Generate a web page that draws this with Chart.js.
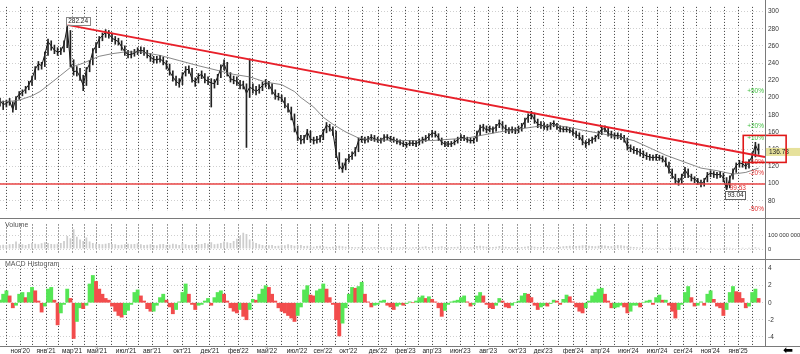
<!DOCTYPE html>
<html>
<head>
<meta charset="utf-8">
<script src="https://cdn.jsdelivr.net/npm/chart.js@4.4.1/dist/chart.umd.min.js"></script>
<style>
  body { margin: 0; background: #fff; }
  #wrap { position: relative; width: 800px; height: 354px; overflow: hidden; font-family: 'Liberation Sans', Arial, sans-serif; }
  canvas { position: absolute; left: 0; }
  .sep { position: absolute; left: 0; width: 800px; height: 1px; background: #7a7a7a; }
  .vsep { position: absolute; left: 765px; top: 0; width: 1px; height: 347px; background: #7a7a7a; }
  .pane-title { position: absolute; left: 5px; font-size: 7px; color: #555; }
  .arrow { position: absolute; left: 783px; top: 343px; font-size: 12px; color: #000; font-family: 'DejaVu Sans'; }
</style>
</head>
<body>
<div id="wrap">
  <canvas id="priceChart" width="800" height="218" style="top:0"></canvas>
  <canvas id="volChart" width="800" height="41" style="top:218px"></canvas>
  <canvas id="macdChart" width="800" height="95" style="top:259px"></canvas>
  <div class="sep" style="top:218px"></div>
  <div class="sep" style="top:259px"></div>
  <div class="sep" style="top:346px"></div>
  <div class="vsep"></div>
  <div class="pane-title" style="top:221px">Volume</div>
  <div class="pane-title" style="top:260px">MACD Histogram</div>
  <div class="arrow">&#x2B05;</div>
</div>
<script>
// weekly closes, week 0 = left edge of the chart
const price = [196,192,193,196,186,199,204,206,210,215,
  222,233,239,237,250,265,260,255,253,254,
  262,282,240,230,231,224,214,232,239,254,
  260,268,272,276,274,269,267,265,259,253,
  250,250,252,254,255,254,250,247,244,244,
  245,242,238,230,224,219,216,226,232,233,
  221,218,225,227,221,219,217,216,224,234,
  240,228,222,220,219,214,215,205,212,210,
  207,210,214,217,215,208,202,201,199,192,
  188,180,166,155,150,152,160,152,150,151,
  152,160,168,165,160,135,121,116,126,130,
  133,138,150,152,150,152,154,152,151,150,
  154,154,152,151,149,148,146,145,147,147,
  146,149,151,152,155,159,158,153,148,146,
  146,146,148,151,154,153,151,150,150,157,
  165,166,162,164,163,166,171,167,163,162,
  163,162,163,166,173,178,181,174,169,168,
  167,165,168,171,166,164,163,163,162,160,
  157,155,149,146,149,151,153,158,163,164,
  158,157,156,156,155,152,143,141,139,138,
  136,134,132,131,130,131,130,129,124,116,
  110,104,101,108,116,110,107,105,103,99,
  103,110,112,111,110,111,106,93,106,114,
  121,124,123,120,125,132,145,137];
// weekly lows and highs
const priceLow = [190,186,189,191,183,186,198,202,205,209,
  214,221,232,233,236,249,255,251,249,250,
  253,258,236,226,225,220,208,214,230,238,
  252,258,266,270,269,265,262,261,255,249,
  246,246,248,250,251,249,246,242,240,240,
  241,238,233,226,219,214,212,215,225,228,
  218,213,217,222,217,215,189,211,215,223,
  232,225,218,216,214,210,210,142,200,205,
  203,205,208,212,210,204,198,197,195,188,
  183,174,160,150,146,147,151,148,146,147,
  148,151,159,161,156,130,117,113,116,125,
  128,132,137,148,147,148,150,149,148,147,
  149,151,149,148,146,145,143,142,144,144,
  143,145,147,149,151,154,154,150,145,143,
  143,143,145,147,150,150,148,147,147,149,
  156,161,159,160,159,161,165,163,159,158,
  159,158,159,161,165,171,175,170,165,164,
  163,162,163,166,163,160,160,160,159,156,
  153,151,145,142,145,147,149,152,157,160,
  155,153,152,152,151,148,139,137,135,134,
  132,130,128,127,127,127,127,125,120,112,
  106,100,98,100,107,107,103,101,99,96,
  97,102,108,107,106,107,102,93,95,105,
  113,119,119,117,118,124,131,134];
const priceHigh = [199,196,197,199,195,201,207,209,213,219,
  225,236,242,241,253,268,266,261,258,258,
  266,284,278,244,236,234,226,235,243,257,
  264,271,275,279,278,275,271,269,266,260,
  255,254,256,258,259,258,255,251,248,248,
  249,247,243,239,231,225,222,229,236,237,
  234,223,228,231,228,224,222,221,227,238,
  244,241,229,225,224,220,219,216,245,216,
  213,215,218,221,219,216,209,205,203,200,
  193,189,181,167,156,156,163,161,154,155,
  156,163,171,169,166,161,136,124,129,134,
  137,142,153,155,154,155,157,156,154,153,
  157,157,155,154,152,151,149,148,150,150,
  149,152,154,156,158,162,161,158,153,149,
  149,149,151,154,157,156,154,153,153,161,
  168,169,167,167,166,169,174,172,168,165,
  166,165,167,170,176,181,184,182,175,172,
  171,169,171,173,170,167,166,166,165,164,
  161,159,156,150,152,154,156,161,166,167,
  165,161,159,159,158,156,153,145,143,141,
  140,138,136,134,133,134,133,132,130,125,
  117,111,106,111,119,117,111,108,106,104,
  106,113,115,114,113,114,112,107,109,117,
  124,127,126,125,128,136,148,146];
const lastPrice = 136.78;

// moving average
const maWeeks = [0,4,6,10,12.5,15.6,19,22,26,31,35,39,44,50,56,62,73,78,83,88,92,94,98,101,104,108,112,116,125,135,146,156,167,172,177,182,188,198,208,219,224,229,233,237];
const maValues = [195,196,197,202,207,216,226,235,240,248,251,253,253,249,243,237,227,224,218,215,207,200,189,177,169,160,153,151,150,150,153,160,166,168,166,162,158,150,133,118,115,111,113,118];

// trend lines
const trendWeeks = [21, 239];
const trendValues = [284.5, 131];
const supportLevel = 99.53;
const peakLabel = '282.24';
const lowLabel = '93.04';

// volume, millions
const volume = [28,32,30,35,38,55,40,35,30,38,
  45,40,35,42,50,45,38,35,40,45,
  60,95,80,145,90,70,60,85,55,45,
  40,38,35,40,45,38,35,30,32,35,
  40,35,38,42,35,30,32,35,30,28,
  35,38,30,32,40,35,30,42,35,30,
  32,30,35,38,45,40,50,35,40,45,
  55,50,45,60,75,95,120,110,70,55,
  45,35,30,25,28,30,22,25,30,28,
  35,30,25,28,30,22,25,20,18,22,
  25,20,18,15,18,22,25,20,18,16,
  15,14,16,18,15,12,14,16,13,15,
  14,12,15,13,12,14,16,13,12,14,
  15,16,18,20,16,14,15,18,20,16,
  14,15,16,18,20,18,15,14,16,22,
  25,20,18,16,15,18,22,20,17,15,
  16,15,14,16,18,20,22,18,16,15,
  14,16,15,14,16,18,20,22,25,20,
  22,25,28,30,25,22,20,24,28,26,
  22,20,25,30,28,24,20,18,15,14,
  12,10,9,10,8,9,10,8,7,9,
  10,12,9,8,10,9,8,7,8,9,
  8,7,9,8,7,8,9,12,10,8,
  7,8,9,8,10,12,14,10];

// MACD histogram
const macd = [0.3,1.0,1.4,0.8,-0.6,-0.3,1.0,1.2,0.6,1.2,
  1.8,1.4,0.2,-1.1,-0.4,1.6,1.8,0.3,-2.6,-1.2,
  -0.2,1.6,0.5,-4.2,-2.2,-0.6,-0.7,-0.3,2.2,3.2,
  2.5,1.6,1.0,0.5,0.3,-0.4,-1.0,-1.5,-1.7,-1.4,
  -0.9,-0.2,1.2,1.5,0.8,0.2,-0.7,-1.0,-1.0,-0.3,
  0.6,1.0,0.3,-0.5,-1.3,-0.8,0.1,1.2,2.2,1.0,
  -0.2,-0.8,-0.3,-0.2,0.2,0.5,-0.3,0.6,1.2,1.4,
  1.0,0.2,-0.6,-1.0,-1.2,-0.8,-1.6,-2.0,-0.8,0.4,
  0.3,1.0,1.6,2.0,1.8,1.0,0.2,-0.6,-1.0,-1.2,
  -1.5,-1.8,-2.2,-1.5,-0.5,1.5,2.0,0.9,0.8,1.4,
  1.6,2.2,1.6,0.6,-0.2,-2.0,-3.9,-2.4,-0.6,1.0,
  1.8,1.7,1.9,2.4,1.0,0.1,-0.5,-0.3,-0.2,0.2,
  0.3,-0.3,-0.5,-0.8,-0.4,-0.2,-0.3,-0.1,0.1,0.0,
  0.2,0.6,0.8,0.5,0.7,0.4,0.1,-0.6,-1.6,-0.9,
  -0.2,0.1,0.2,0.3,0.6,0.8,0.1,-0.4,-0.2,0.8,
  1.2,0.8,-0.2,-0.6,-0.7,-0.3,0.5,0.2,-0.5,-0.6,
  -0.3,0.0,0.2,0.8,1.1,1.0,0.6,-0.3,-0.8,-0.5,
  -0.3,-0.4,-0.1,0.3,0.2,-0.2,0.4,0.9,0.7,0.1,
  -0.5,-1.0,-1.2,-0.6,0.2,0.8,1.2,1.6,1.7,1.0,
  0.2,-0.6,-0.6,-0.5,-0.3,-0.5,-1.2,-1.0,-0.3,-0.3,
  -0.5,0.0,0.2,0.3,-0.2,0.6,0.9,0.3,0.3,-0.3,
  -1.0,-1.8,-0.8,-0.2,1.2,1.9,0.6,-0.4,-0.3,0.1,
  -0.3,1.0,1.4,0.4,-0.4,-0.6,-1.5,-0.8,1.2,1.9,
  1.3,1.2,0.5,-0.6,-0.4,1.2,1.6,0.5];

// month grid (weeks) and labels
const monthWeeks = [1.9,6.3,10.3,14.4,18.4,22.5,26.4,30.3,34.8,39.4,43.4,47.5,52.2,56.9,61.3,65.6,70,74.4,78.9,83.4,88.1,92.8,96.9,100.9,104.8,108.8,113.4,118.1,122.3,126.6,130.8,135,139.4,143.8,148.1,152.5,157,161.6,165.6,169.7,174.4,179.1,183.3,187.5,191.9,196.3,200.8,205.3,209.4,213.4,217.7,221.9,226.3,230.6,235];
const monthLabels = ['',"ноя'20",'',"янв'21",'',"мар'21",'',"май'21",'',"июл'21",'',"авг'21",'',"окт'21",'',"дек'21",'',"фев'22",'',"май'22",'',"июл'22",'',"сен'22",'',"окт'22",'',"дек'22",'',"фев'23",'',"апр'23",'',"июн'23",'',"авг'23",'',"окт'23",'',"дек'23",'',"фев'24",'',"апр'24",'',"июн'24",'',"июл'24",'',"сен'24",'',"ноя'24",'',"янв'25",''];

const priceTicks = [80,100,120,140,160,180,200,220,240,260,280,300];
const volTicks = [0, 100];
const macdTicks = [-4,-2,0,2,4];
const percentLevels = [0.5, 0.2, 0.1, -0.1, -0.2, -0.5];

const FONT = 'Liberation Sans';
const AXIS_W = 35;
const X_MAX = 239;

function xScale(showLabels) {
    return {
        type: 'linear', min: 0, max: X_MAX, offset: false,
        afterBuildTicks: s => { s.ticks = monthWeeks.map(v => ({ value: v })); },
        afterFit: s => { s.height = showLabels ? 8 : 0; },
        grid: { color: '#3a3a3a', lineWidth: 1, drawTicks: false, offset: false },
        border: { display: false, dash: [1, 2] },
        ticks: {
            display: showLabels, autoSkip: false, maxRotation: 0, padding: 1,
            color: '#222', font: { size: 6.5, family: FONT },
            callback: (v, i) => monthLabels[i]
        }
    };
}

function yScale(min, max, ticks, fmt, size) {
    return {
        position: 'right', min, max,
        afterBuildTicks: s => { s.ticks = ticks.map(v => ({ value: v })); },
        afterFit: s => { s.width = AXIS_W; },
        grid: { color: '#cfcfcf', drawTicks: false },
        border: { display: false, dash: [1, 2] },
        ticks: { padding: 3, color: '#333', font: { size: size || 6.5, family: FONT }, callback: fmt || (v => v) }
    };
}

function boxLabel(ctx, text, cx, cy, border) {
    ctx.font = `6.5px ${FONT}`;
    const w = ctx.measureText(text).width + 4;
    ctx.fillStyle = '#fff';
    ctx.fillRect(cx - w / 2, cy - 4, w, 8);
    ctx.strokeStyle = border;
    ctx.lineWidth = 1;
    ctx.strokeRect(Math.round(cx - w / 2) + 0.5, Math.round(cy - 4) + 0.5, Math.round(w), 8);
    ctx.fillStyle = '#222';
    ctx.textAlign = 'center';
    ctx.textBaseline = 'middle';
    ctx.fillText(text, cx, cy + 0.5);
}

const priceNotes = {
    id: 'priceNotes',
    afterDraw(chart) {
        const { ctx, chartArea, scales: { x, y } } = chart;
        ctx.save();
        // percent levels from the last price
        ctx.font = `6.5px ${FONT}`;
        ctx.textAlign = 'right';
        ctx.textBaseline = 'middle';
        percentLevels.forEach(p => {
            const py = y.getPixelForValue(lastPrice * (1 + p)) - 2;
            ctx.fillStyle = p > 0 ? '#3fbf3f' : '#e03030';
            ctx.fillText((p > 0 ? '+' : '') + Math.round(p * 100) + '%', chartArea.right - 1, py);
        });
        // last price tag
        const ly = y.getPixelForValue(lastPrice);
        ctx.fillStyle = '#e6e19b';
        ctx.fillRect(chartArea.right + 1, ly - 4, chart.width - chartArea.right, 8);
        ctx.fillStyle = '#222';
        ctx.textAlign = 'left';
        ctx.fillText(lastPrice.toFixed(2), chartArea.right + 4, ly + 0.5);
        // highlight box
        ctx.strokeStyle = '#e01818';
        ctx.lineWidth = 1.6;
        const bx0 = x.getPixelForValue(232.2), bx1 = x.getPixelForValue(245.6);
        const by0 = y.getPixelForValue(156), by1 = y.getPixelForValue(124.6);
        ctx.strokeRect(bx0, by0, bx1 - bx0, by1 - by0);
        // support label
        ctx.fillStyle = '#e03030';
        ctx.textAlign = 'center';
        ctx.fillText(supportLevel.toFixed(2), x.getPixelForValue(230.5), y.getPixelForValue(94.9));
        boxLabel(ctx, lowLabel, x.getPixelForValue(229.8), y.getPixelForValue(86.8), '#666');
        boxLabel(ctx, peakLabel, x.getPixelForValue(24.4), y.getPixelForValue(289.5), '#888');
        ctx.restore();
    }
};

new Chart(document.getElementById('priceChart'), {
    type: 'line',
    data: {
        datasets: [
            { data: trendWeeks.map((w, i) => ({ x: w, y: trendValues[i] })), borderColor: '#e8202a', borderWidth: 2, pointRadius: 0 },
            { data: [{ x: 0, y: supportLevel }, { x: X_MAX, y: supportLevel }], borderColor: '#e84545', borderWidth: 1.5, pointRadius: 0 },
            { data: maWeeks.map((w, i) => ({ x: w, y: maValues[i] })), borderColor: '#6a6a6a', borderWidth: 0.8, pointRadius: 0 },
            { type: 'bar', data: price.map((v, i) => ({ x: i, y: [priceLow[i], priceHigh[i]] })), backgroundColor: '#222', barThickness: 1 },
            { data: price.map((v, i) => ({ x: i, y: v })), borderColor: '#111', borderWidth: 1, pointRadius: 0 }
        ]
    },
    options: {
        responsive: false, animation: false,
        layout: { padding: 0 },
        plugins: { legend: { display: false }, tooltip: { enabled: false } },
        scales: { x: xScale(false), y: yScale(68, 305.4, priceTicks) }
    },
    plugins: [priceNotes]
});

new Chart(document.getElementById('volChart'), {
    type: 'bar',
    data: {
        datasets: [{
            data: volume.map((v, i) => ({ x: i, y: v })),
            backgroundColor: '#cdcdcd', categoryPercentage: 1, barPercentage: 0.55
        }]
    },
    options: {
        responsive: false, animation: false,
        layout: { padding: 0 },
        plugins: { legend: { display: false }, tooltip: { enabled: false } },
        scales: { x: xScale(false), y: yScale(-25, 180, volTicks, v => v === 0 ? '0' : '100 000 000', 5.8) }
    }
});

new Chart(document.getElementById('macdChart'), {
    type: 'bar',
    data: {
        datasets: [{
            data: macd.map((v, i) => ({ x: i, y: v })),
            backgroundColor: macd.map((v, i) => (i === 0 || v >= macd[i - 1]) ? '#55e655' : '#f24c4c'),
            categoryPercentage: 1, barPercentage: 1
        }]
    },
    options: {
        responsive: false, animation: false,
        layout: { padding: 0 },
        plugins: { legend: { display: false }, tooltip: { enabled: false } },
        scales: { x: xScale(true), y: yScale(-5.08, 4.32, macdTicks) }
    }
});
</script>
</body>
</html>
